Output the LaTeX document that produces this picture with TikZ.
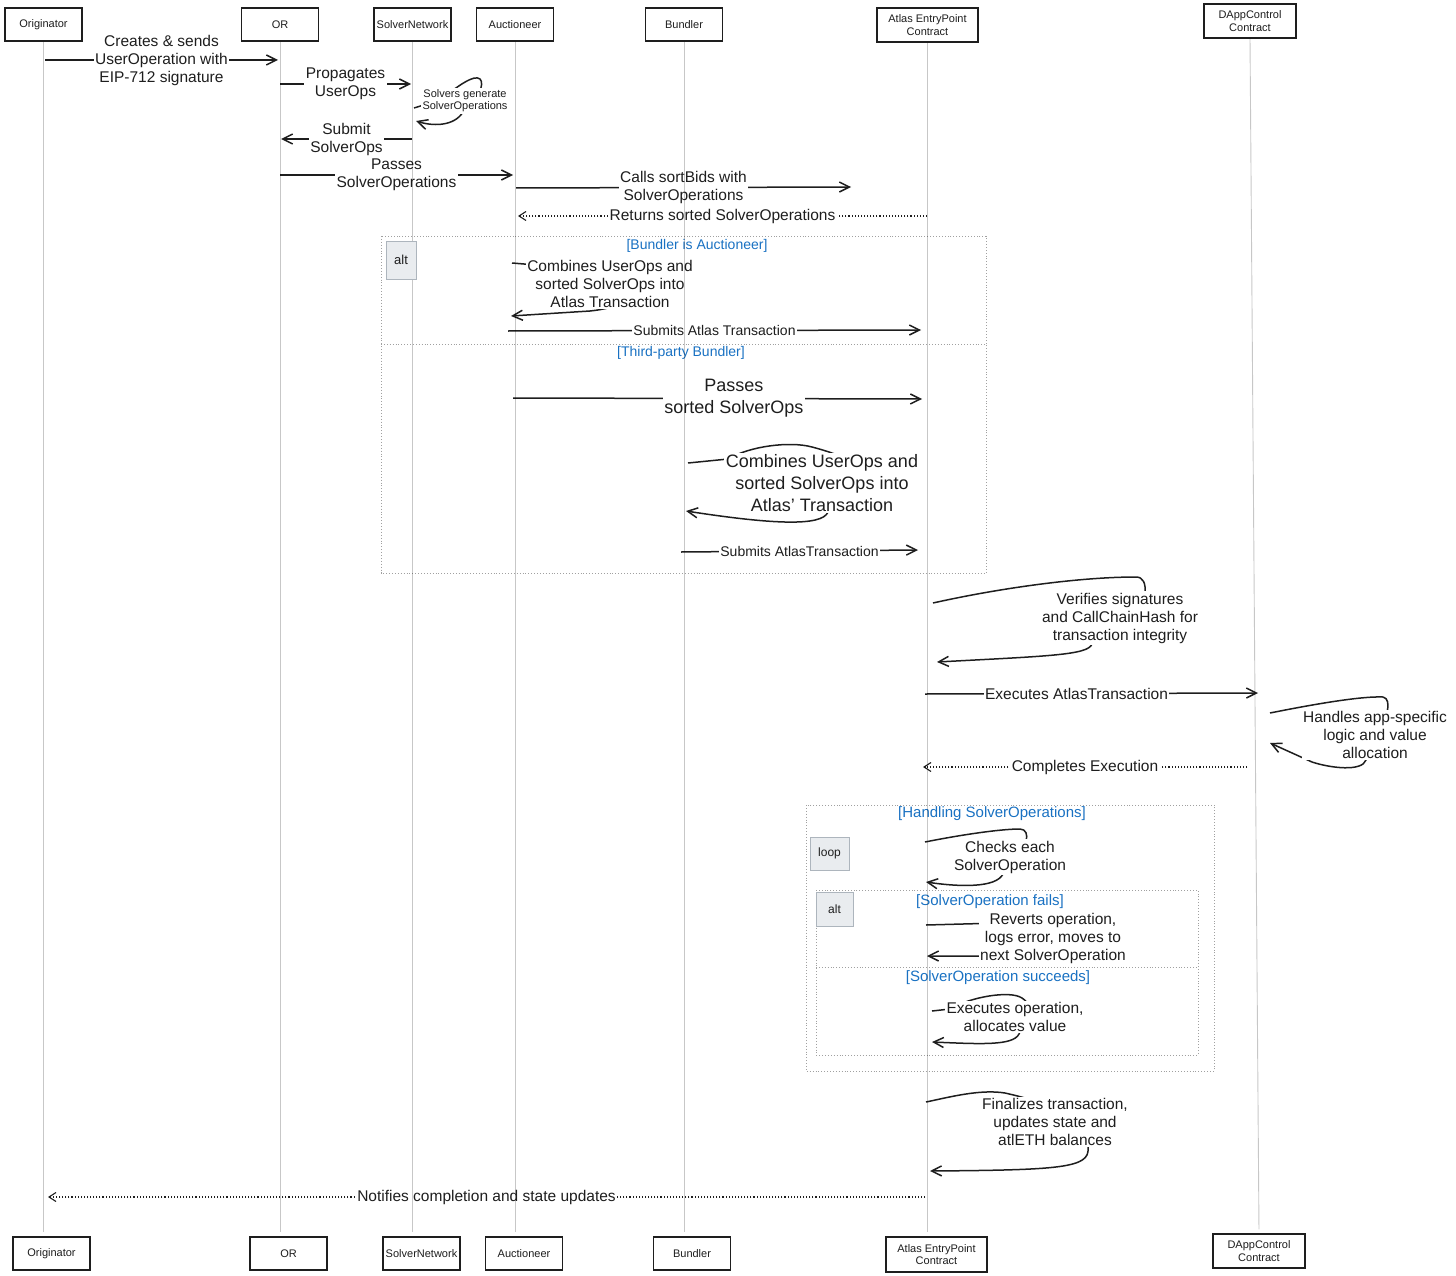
\documentclass[tikz,border=0pt]{standalone}
\usepackage{fontspec}
\setmainfont{Liberation Sans}
\usetikzlibrary{arrows.meta}
\definecolor{ink}{HTML}{1E1E1E}
\definecolor{guardblue}{HTML}{1971C2}
\definecolor{framegray}{HTML}{A0A0A0}
\definecolor{tagfill}{HTML}{E9ECEF}
\definecolor{tagdraw}{HTML}{ADB5BD}
\newcommand{\fsz}[2]{\fontsize{#1}{#2}\selectfont}
\begin{document}
\begin{tikzpicture}[x=1pt,y=-1pt,
  part/.style={draw=ink, line width=1.3pt, fill=white, minimum width=77pt, minimum height=33pt, align=center, inner sep=1pt, font=\fsz{11}{12.5}, text=ink},
  life/.style={draw=black, draw opacity=0.22, line width=0.9pt},
  msg/.style={draw=ink, line width=1.5pt, -{Straight Barb[length=10pt,width=10pt,line width=1.5pt]}},
  ret/.style={draw=ink, line width=1.1pt, dotted, -{Straight Barb[length=7pt,width=9pt,line width=1.1pt]}},
  lbl/.style={fill=white, inner sep=1.5pt, align=center, text=ink, font=\fsz{15.5}{18}},
  slbl/.style={lbl, font=\fsz{11}{12}},
  mlbl/.style={lbl, font=\fsz{14}{17}},
  blbl/.style={lbl, font=\fsz{18}{22}},
  frm/.style={draw=framegray, line width=0.9pt, dotted},
  tagbox/.style={draw=tagdraw, fill=tagfill, line width=0.8pt, text=ink, font=\fsz{13}{15}, inner sep=0pt},
  grd/.style={text=guardblue, font=\fsz{14}{16}, inner sep=1pt},
  grdl/.style={text=guardblue, font=\fsz{15}{17}, inner sep=1pt}
]
\useasboundingbox (0,0) rectangle (1456,1276);

% ---------- frames ----------
\draw[frm] (381,236) rectangle (986,573);
\draw[frm] (381,344) -- (986,344);
\draw[frm] (806,805) rectangle (1214,1071);
\draw[frm] (816,890) rectangle (1198,1055);
\draw[frm] (816,967) -- (1198,967);

\node[grd] (g1) at (697,246) {[Bundler is Auctioneer]};
\node[grd] (g2) at (681,353) {[Third-party Bundler]};
\node[grdl] (g3) at (992,814) {[Handling SolverOperations]};
\node[grdl] (g4) at (990,902) {[SolverOperation fails]};
\node[grdl] (g5) at (998,978) {[SolverOperation succeeds]};

% ---------- message end points ----------
\coordinate (m1s) at (45,60);   \coordinate (m1e) at (278,60);
\coordinate (m2s) at (280,84);  \coordinate (m2e) at (411,84);
\coordinate (m4s) at (412,139); \coordinate (m4e) at (281,139);
\coordinate (m5s) at (280,175); \coordinate (m5e) at (513,175);
\coordinate (m6s) at (516,188); \coordinate (m6e) at (851,187);
\coordinate (r7s) at (927,216); \coordinate (r7e) at (518,216);
\coordinate (m8s) at (508,331); \coordinate (m8e) at (921,330);
\coordinate (m9s) at (513,398); \coordinate (m9e) at (922,399);
\coordinate (m10s) at (681,552); \coordinate (m10e) at (918,550);
\coordinate (m11s) at (925,694); \coordinate (m11e) at (1258,693);
\coordinate (r12s) at (1247,767); \coordinate (r12e) at (923,767);
\coordinate (r13s) at (925,1197); \coordinate (r13e) at (48,1197);

% ---------- straight messages ----------
\draw[msg] (m1s) -- node[lbl] {Creates \& sends\\UserOperation with\\EIP-712 signature} (m1e);
\draw[msg] (m2s) -- node[lbl] {Propagates\\UserOps} (m2e);
\draw[msg] (m4s) -- node[lbl] {Submit\\SolverOps} (m4e);
\draw[msg] (m5s) -- node[lbl] {Passes\\SolverOperations} (m5e);
\draw[msg] (m6s) -- node[lbl] {Calls sortBids with\\SolverOperations} (m6e);
\draw[ret] (r7s) -- node[lbl] {Returns sorted SolverOperations} (r7e);
\draw[msg] (m8s) -- node[mlbl] {Submits Atlas Transaction} (m8e);
\draw[msg] (m9s) -- node[blbl, pos=0.54] {Passes\\sorted SolverOps} (m9e);
\draw[msg] (m10s) -- node[mlbl] {Submits AtlasTransaction} (m10e);
\draw[msg] (m11s) -- node[lbl, pos=0.455] {Executes AtlasTransaction} (m11e);
\draw[ret] (r12s) -- node[lbl] {Completes Execution} (r12e);
\draw[ret] (r13s) -- node[lbl] {Notifies completion and state updates} (r13e);

% ---------- self messages ----------
\coordinate (s3a) at (414,108); \coordinate (s3b) at (416,121);
\draw[msg] (s3a) -- (440,100) .. controls (458,86) and (474,74) .. (480,79)
  .. controls (485,84) and (478,100) .. (465,108)
  .. controls (458,126) and (435,127) .. (s3b);
\node[slbl] (t3) at (465,101) {Solvers generate\\SolverOperations};

\coordinate (a1a) at (512,263); \coordinate (a1b) at (511,316);
\draw[msg] (a1a) -- (560,267) .. controls (650,270) and (650,305) .. (590,311) -- (a1b);
\node[lbl] (ta1) at (610,284) {Combines UserOps and\\sorted SolverOps into\\Atlas Transaction};

\coordinate (b1a) at (688,463); \coordinate (b1b) at (686,511);
\draw[msg] (b1a) -- (728,459) .. controls (750,446) and (790,441) .. (812,447)
  .. controls (900,470) and (880,505) .. (828,512)
  .. controls (822,527) and (770,524) .. (b1b);
\node[blbl] (tb1) at (822,483) {Combines UserOps and\\sorted SolverOps into\\Atlas' Transaction};

\coordinate (e1a) at (933,603); \coordinate (e1b) at (937,662);
\draw[msg] (e1a) .. controls (1000,588) and (1080,577) .. (1136,577)
  .. controls (1143,577) and (1146,583) .. (1145,594)
  .. controls (1150,620) and (1095,625) .. (1092,644)
  .. controls (1088,655) and (1050,656) .. (e1b);
\node[lbl] (te1) at (1120,618) {Verifies signatures\\and CallChainHash for\\transaction integrity};

\coordinate (d1a) at (1270,713); \coordinate (d1b) at (1270,743);
\draw[msg] (d1a) .. controls (1310,705) and (1360,696) .. (1383,697)
  .. controls (1388,698) and (1389,704) .. (1387,712)
  .. controls (1400,740) and (1370,745) .. (1366,760)
  .. controls (1362,772) and (1330,768) .. (1312,762) -- (d1b);
\node[lbl] (td1) at (1375,735) {Handles app-specific\\logic and value\\allocation};

\coordinate (c1a) at (925,842); \coordinate (c1b) at (926,882);
\draw[msg] (c1a) .. controls (960,835) and (1000,829) .. (1020,829)
  .. controls (1026,829) and (1028,835) .. (1026,841)
  .. controls (1030,860) and (1006,866) .. (1003,874)
  .. controls (996,888) and (960,887) .. (c1b);
\node[lbl] (tc1) at (1010,857) {Checks each\\SolverOperation};

\coordinate (r1a) at (926,925); \coordinate (r1b) at (927,956);
\draw[msg] (r1a) -- (1000,923) .. controls (1080,925) and (1080,956) .. (1000,956) -- (r1b);
\node[lbl] (tr1) at (1053,938) {Reverts operation,\\logs error, moves to\\next SolverOperation};

\coordinate (x1a) at (932,1011); \coordinate (x1b) at (932,1042);
\draw[msg] (x1a) -- (950,1009) .. controls (970,997) and (1010,990) .. (1022,998)
  .. controls (1040,1010) and (1022,1025) .. (1019,1034)
  .. controls (1013,1046) and (980,1044) .. (x1b);
\node[lbl] (tx1) at (1015,1017) {Executes operation,\\allocates value};

\coordinate (f1a) at (926,1102); \coordinate (f1b) at (930,1171);
\draw[msg] (f1a) .. controls (950,1097) and (980,1089) .. (1005,1093)
  .. controls (1080,1110) and (1092,1130) .. (1088,1148)
  .. controls (1090,1168) and (1060,1170) .. (f1b);
\node[lbl] (tf1) at (1055,1122) {Finalizes transaction,\\updates state and\\atlETH balances};

% ---------- participants ----------
\node[part] (tO) at (43.5,24.5) {Originator};
\node[part] (tOR) at (280,24.5) {OR};
\node[part] (tSN) at (412.5,24.5) {SolverNetwork};
\node[part] (tA) at (515,24.5) {Auctioneer};
\node[part] (tB) at (684,24.5) {Bundler};
\node[part, minimum width=101pt, minimum height=34pt] (tE) at (927.5,25) {Atlas EntryPoint\\Contract};
\node[part, minimum width=92pt, minimum height=34pt] (tD) at (1250,21) {DAppControl\\Contract};

\node[part] (bO) at (51.5,1253.5) {Originator};
\node[part] (bOR) at (288.5,1253.5) {OR};
\node[part] (bSN) at (421.5,1253.5) {SolverNetwork};
\node[part] (bA) at (524,1253.5) {Auctioneer};
\node[part] (bB) at (692,1253.5) {Bundler};
\node[part, minimum width=101pt, minimum height=35pt] (bE) at (936.5,1254.5) {Atlas EntryPoint\\Contract};
\node[part, minimum width=92pt, minimum height=34pt] (bD) at (1259,1251) {DAppControl\\Contract};

% ---------- lifelines ----------
\draw[life, shorten >=4pt] (tO.south) -- (tO.south |- bO.north);
\draw[life, shorten >=4pt] (tOR.south) -- (tOR.south |- bOR.north);
\draw[life, shorten >=4pt] (tSN.south) -- (tSN.south |- bSN.north);
\draw[life, shorten >=4pt] (tA.south) -- (tA.south |- bA.north);
\draw[life, shorten >=4pt] (tB.south) -- (tB.south |- bB.north);
\draw[life, shorten >=4pt] (tE.south) -- (tE.south |- bE.north);
\draw[life, shorten >=4pt] (tD.south) -- (bD.north);

% ---------- frame tags ----------
\node[tagbox, minimum width=30pt, minimum height=38pt] (k1) at (401,260) {alt};
\node[tagbox, minimum width=39pt, minimum height=33pt, font=\fsz{12}{14}] (k2) at (829.5,853.5) {loop};
\node[tagbox, minimum width=37pt, minimum height=34pt, font=\fsz{12}{14}] (k3) at (834.5,909) {alt};
\end{tikzpicture}
\end{document}
